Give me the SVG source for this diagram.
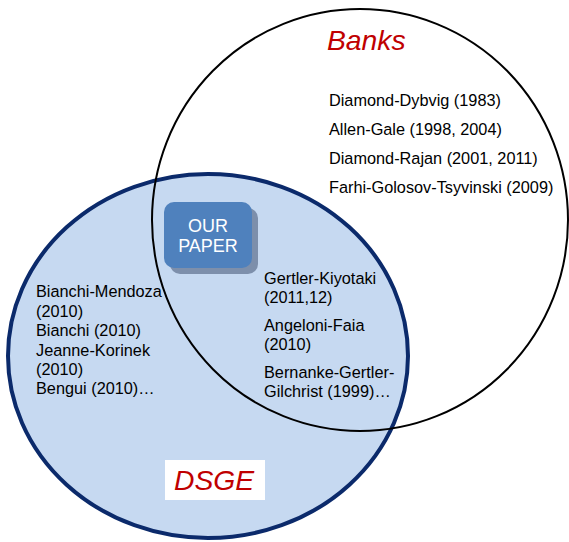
<svg xmlns="http://www.w3.org/2000/svg" width="569" height="542" viewBox="0 0 569 542">
<style>
.t{font-family:"Liberation Sans",Arial,sans-serif;font-size:16.3px;fill:#000}
.h{font-family:"Liberation Sans",Arial,sans-serif;font-size:28.3px;font-style:italic;fill:#c00000}
.p{font-family:"Liberation Sans",Arial,sans-serif;font-size:18px;fill:#fff;text-anchor:middle}
</style>
<rect width="569" height="542" fill="#fff"/>
<g id="dsge">
<ellipse cx="208" cy="356" rx="200" ry="182" fill="#c6d9f1" stroke="#0b2a6b" stroke-width="4"/>
</g>
<g id="banks">
<ellipse cx="360" cy="220" rx="208" ry="211" fill="none" stroke="#000" stroke-width="2"/>
</g>
<g id="banks-label">
<text class="h" x="327" y="50">Banks</text>
<text class="t" x="329" y="106">Diamond-Dybvig (1983)</text>
<text class="t" x="329" y="135">Allen-Gale (1998, 2004)</text>
<text class="t" x="329" y="164">Diamond-Rajan (2001, 2011)</text>
<text class="t" x="329" y="193">Farhi-Golosov-Tsyvinski (2009)</text>
</g>
<g id="dsge-label">
<rect x="165" y="460" width="100" height="40" fill="#fff"/>
<text class="h" x="174" y="490">DSGE</text>
</g>
<g id="left-list">
<text class="t" x="36" y="297">Bianchi-Mendoza</text>
<text class="t" x="36" y="317">(2010)</text>
<text class="t" x="36" y="336">Bianchi (2010)</text>
<text class="t" x="36" y="356">Jeanne-Korinek</text>
<text class="t" x="36" y="375">(2010)</text>
<text class="t" x="36" y="394">Bengui (2010)…</text>
</g>
<g id="mid-list">
<text class="t" x="264" y="284">Gertler-Kiyotaki</text>
<text class="t" x="264" y="303">(2011,12)</text>
<text class="t" x="264" y="331">Angeloni-Faia</text>
<text class="t" x="264" y="350">(2010)</text>
<text class="t" x="264" y="378">Bernanke-Gertler-</text>
<text class="t" x="264" y="397">Gilchrist (1999)…</text>
</g>
<g id="our-paper">
<rect x="170" y="208" width="88" height="66" rx="10" fill="#7d8fab"/>
<rect x="164" y="202" width="88" height="66" rx="10" fill="#4f81bd"/>
<text class="p" x="208" y="232">OUR</text>
<text class="p" x="208" y="252">PAPER</text>
</g>
</svg>
